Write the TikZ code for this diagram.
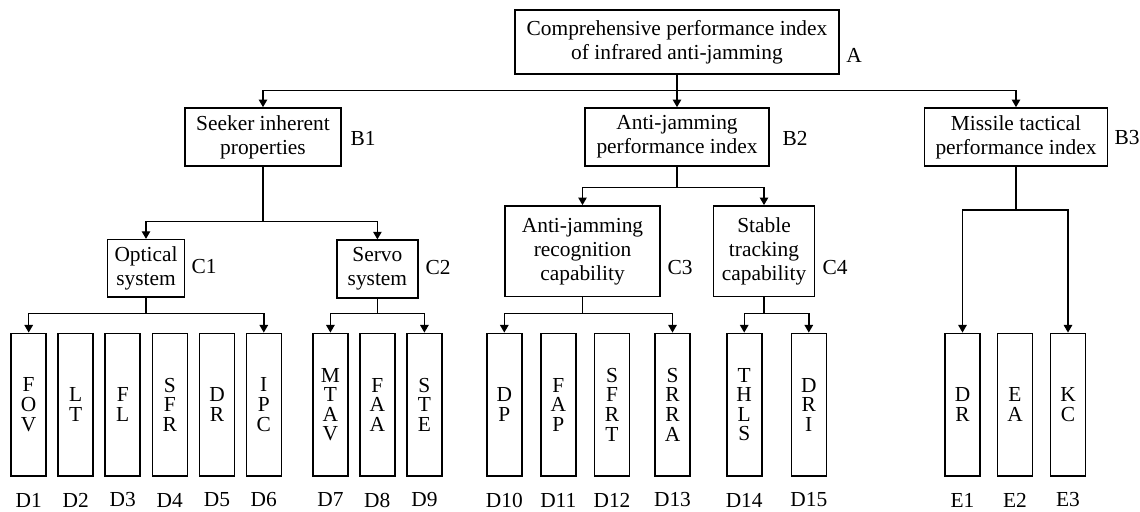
\documentclass[tikz,border=0pt]{standalone}
\usepackage{fontspec}
\setmainfont{Liberation Serif}
\usetikzlibrary{arrows.meta}
\begin{document}
\begin{tikzpicture}[x=0.5pt,y=-0.5pt,
  every node/.style={font=\fontsize{10.7}{12}\selectfont},
  box/.style={draw, line width=0.8pt, inner sep=0pt, align=center},
  leaf/.style={draw, line width=0.8pt, inner sep=0pt, align=center,
    minimum width=17.5pt, minimum height=71.3pt,
    font=\fontsize{10.7}{9.8}\selectfont},
  lab/.style={inner sep=0pt},
  conn/.style={line width=0.7pt},
  arr/.style={conn, -{Triangle[width=4.2pt,length=3.8pt]}},
]
\useasboundingbox (0,0) rectangle (1140,512);

% level A
\node[box, minimum width=162pt, minimum height=32pt] (A) at (677,42)
  {Comprehensive performance index\\of infrared anti-jamming};
\node[lab] (lA) at (854,55) {A};

% level B
\node[box, minimum width=78pt, minimum height=29pt] (B1) at (263,137)
  {Seeker inherent\\properties};
\node[lab] (lB1) at (363,138) {B1};
\node[box, minimum width=92pt, minimum height=29pt] (B2) at (677,137)
  {Anti-jamming\\performance index};
\node[lab] (lB2) at (795,138) {B2};
\node[box, minimum width=91.5pt, minimum height=29pt] (B3) at (1016,137)
  {Missile tactical\\performance index};
\node[lab] (lB3) at (1127,138) {B3};

% level C
\node[box, minimum width=38.5pt, minimum height=28.8pt] (C1) at (146,268.5)
  {Optical\\system};
\node[lab] (lC1) at (204,267) {C1};
\node[box, minimum width=40.5pt, minimum height=28.8pt] (C2) at (377.4,269)
  {Servo\\system};
\node[lab] (lC2) at (438,268) {C2};
\node[box, minimum width=77.5pt, minimum height=45.35pt] (C3) at (582.5,251.3)
  {Anti-jamming\\recognition\\capability};
\node[lab] (lC3) at (680,268) {C3};
\node[box, minimum width=50.5pt, minimum height=45.35pt] (C4) at (764,251.3)
  {Stable\\tracking\\capability};
\node[lab] (lC4) at (835,268) {C4};

% leaves
\node[leaf] (D1)  at (28.7,404.7)  {F\\O\\V};
\node[leaf] (D2)  at (75.7,404.7)  {L\\T};
\node[leaf] (D3)  at (122.7,404.7) {F\\L};
\node[leaf] (D4)  at (169.8,404.7) {S\\F\\R};
\node[leaf] (D5)  at (217,404.7)   {D\\R};
\node[leaf] (D6)  at (263.8,404.7) {I\\P\\C};
\node[leaf] (D7)  at (330.4,404.7) {M\\T\\A\\V};
\node[leaf] (D8)  at (377.3,404.7) {F\\A\\A};
\node[leaf] (D9)  at (424.4,404.7) {S\\T\\E};
\node[leaf] (D10) at (504.3,404.7) {D\\P};
\node[leaf] (D11) at (558.3,404.7) {F\\A\\P};
\node[leaf] (D12) at (612,404.7)   {S\\F\\R\\T};
\node[leaf] (D13) at (672.5,404.7) {S\\R\\R\\A};
\node[leaf] (D14) at (744.2,404.7) {T\\H\\L\\S};
\node[leaf] (D15) at (808.8,404.7) {D\\R\\I};
\node[leaf] (E1)  at (962.5,404.7) {D\\R};
\node[leaf] (E2)  at (1015,404.7)  {E\\A};
\node[leaf] (E3)  at (1068,404.7)  {K\\C};

% leaf labels
\foreach \n/\x in {D1/28.7,D2/75.7,D3/122.7,D4/169.8,D5/217,D6/263.8,
  D7/330.4,D8/377.3,D9/424.4,D10/504.3,D11/558.3,D12/612,D13/672.5,
  D14/744.2,D15/808.8,E1/962.5,E2/1015,E3/1068}
  \node[lab] (l\n) at (\x,500) {\n};

% connectors
\coordinate (jA) at (677,90.7);
\draw[conn] (A.south) -- (jA);
\draw[arr] (jA) -| (B1.north);
\draw[arr] (jA) -- (B2.north);
\draw[arr] (jA) -| (B3.north);

\coordinate (jB1) at (263,221.7);
\draw[conn] (B1.south) -- (jB1);
\draw[arr] (jB1) -| (C1.north);
\draw[arr] (jB1) -| (C2.north);

\coordinate (jB2) at (677,187.3);
\draw[conn] (B2.south) -- (jB2);
\draw[arr] (jB2) -| (C3.north);
\draw[arr] (jB2) -| (C4.north);

\coordinate (jB3) at (1016,210);
\draw[conn] (B3.south) -- (jB3);
\draw[arr] (jB3) -| (E1.north);
\draw[arr] (jB3) -| (E3.north);

\coordinate (jC1) at (146,313.3);
\draw[conn] (C1.south) -- (jC1);
\draw[arr] (jC1) -| (D1.north);
\draw[arr] (jC1) -| (D6.north);

\coordinate (jC2) at (377.4,313.3);
\draw[conn] (C2.south) -- (jC2);
\draw[arr] (jC2) -| (D7.north);
\draw[arr] (jC2) -| (D9.north);

\coordinate (jC3) at (582.5,313.3);
\draw[conn] (C3.south) -- (jC3);
\draw[arr] (jC3) -| (D10.north);
\draw[arr] (jC3) -| (D13.north);

\coordinate (jC4) at (764,313.3);
\draw[conn] (C4.south) -- (jC4);
\draw[arr] (jC4) -| (D14.north);
\draw[arr] (jC4) -| (D15.north);
\end{tikzpicture}
\end{document}
